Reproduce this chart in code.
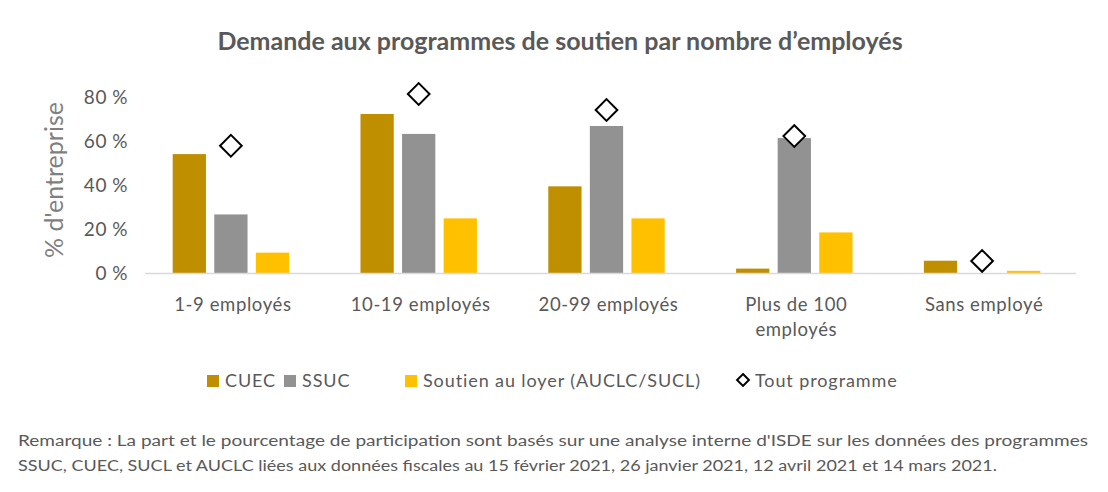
<!DOCTYPE html>
<html>
<head>
<meta charset="utf-8">
<script src="https://cdn.jsdelivr.net/npm/d3@7"></script>
<style>
    body { margin: 0; background: #fff; }
    svg { font-family: Lato, 'Open Sans', sans-serif; }
</style>
</head>
<body>
<div id="chart"></div>
<script>
// categories and series
const categories = ['1-9 employés', '10-19 employés', '20-99 employés', 'Plus de 100 employés', 'Sans employé']
const categoryLines = [['1-9 employés'], ['10-19 employés'], ['20-99 employés'], ['Plus de 100', 'employés'], ['Sans employé']]
const cuec = [54.2, 72.5, 39.5, 2.0, 5.6]
const ssuc = [26.7, 63.4, 67.0, 61.5, 0]
const loyer = [9.3, 24.9, 24.9, 18.5, 1.0]
const toutProgramme = [58.0, 81.6, 74.3, 62.4, 5.5]
const yTicks = [0, 20, 40, 60, 80]

const barSeries = [
    { name: 'CUEC', values: cuec, color: '#BF8F00' },
    { name: 'SSUC', values: ssuc, color: '#929292' },
    { name: 'Soutien au loyer (AUCLC/SUCL)', values: loyer, color: '#FFC000' },
]

const width = 1108
const height = 492
const margin = { top: 97.5, right: 32, bottom: 219, left: 137 }

const svg = d3
    .select('#chart')
    .append('svg')
    .attr('width', width)
    .attr('height', height)

// scales
const x = d3
    .scaleBand()
    .domain(categories)
    .range([margin.left, width - margin.right])

const y = d3
    .scaleLinear()
    .domain([0, 80])
    .range([height - margin.bottom, margin.top])

const xSub = d3
    .scaleBand()
    .domain(barSeries.map((d) => d.name))
    .range([x.bandwidth() * 0.19, x.bandwidth() * 0.81])
    .paddingInner(0.2)

// title
svg.append('text')
    .attr('x', 560)
    .attr('y', 50)
    .attr('text-anchor', 'middle')
    .style('font-size', '25px')
    .style('font-weight', 'bold')
    .attr('fill', '#595959')
    .text('Demande aux programmes de soutien par nombre d\u2019employés')

// y axis labels
svg.append('g')
    .selectAll('text')
    .data(yTicks)
    .enter()
    .append('text')
    .attr('x', 128)
    .attr('y', (d) => y(d))
    .attr('dy', '0.35em')
    .attr('text-anchor', 'end')
    .style('font-size', '19px')
    .style('letter-spacing', '0.5px')
    .attr('fill', '#595959')
    .text((d) => `${d} %`)

// y axis title
svg.append('text')
    .attr('transform', `translate(63, 180) rotate(-90)`)
    .attr('text-anchor', 'middle')
    .style('font-size', '25px')
    .attr('fill', '#7f7f7f')
    .text("% d'entreprise")

// bars
const groups = svg
    .append('g')
    .selectAll('g')
    .data(barSeries)
    .enter()
    .append('g')
    .attr('fill', (d) => d.color)

groups
    .selectAll('rect')
    .data((s) => s.values.map((v, i) => ({ name: s.name, v, cat: categories[i] })))
    .enter()
    .append('rect')
    .attr('x', (d) => x(d.cat) + xSub(d.name))
    .attr('width', xSub.bandwidth())
    .attr('y', (d) => y(d.v))
    .attr('height', (d) => y(0) - y(d.v))

// baseline
svg.append('line')
    .attr('x1', x.range()[0] + 8)
    .attr('x2', x.range()[1])
    .attr('y1', y(0) + 0.5)
    .attr('y2', y(0) + 0.5)
    .attr('stroke', '#d9d9d9')
    .attr('stroke-width', 1.5)

// diamonds
const diamond = d3.symbol().type(d3.symbolDiamond2).size(300)
svg.append('g')
    .selectAll('path')
    .data(toutProgramme)
    .enter()
    .append('path')
    .attr('transform', (d, i) => `translate(${x(categories[i]) + x.bandwidth() / 2}, ${y(d)})`)
    .attr('d', diamond)
    .attr('fill', '#fff')
    .attr('stroke', '#000')
    .attr('stroke-width', 2)

// x labels
const xLabels = svg.append('g')
    .selectAll('text')
    .data(categories)
    .enter()
    .append('text')
    .attr('x', (d) => x(d) + x.bandwidth() / 2 + 2)
    .attr('y', 311)
    .attr('text-anchor', 'middle')
    .style('font-size', '18.5px')
    .style('letter-spacing', '0.6px')
    .attr('fill', '#595959')

xLabels
    .selectAll('tspan')
    .data((d, i) => categoryLines[i])
    .enter()
    .append('tspan')
    .attr('x', function () { return this.parentNode.getAttribute('x') })
    .attr('dy', (d, i) => (i === 0 ? 0 : 25))
    .text((d) => d)

// legend
const legendItems = [
    { name: 'CUEC', color: '#BF8F00', x: 207 },
    { name: 'SSUC', color: '#929292', x: 284 },
    { name: 'Soutien au loyer (AUCLC/SUCL)', color: '#FFC000', x: 405 },
    { name: 'Tout programme', color: null, x: 737 },
]
const legend = svg.append('g')
legendItems.forEach((d) => {
    if (d.color) {
        legend.append('rect')
            .attr('x', d.x)
            .attr('y', 375)
            .attr('width', 12)
            .attr('height', 12)
            .attr('fill', d.color)
    } else {
        legend.append('path')
            .attr('transform', `translate(${d.x + 6}, 380)`)
            .attr('d', d3.symbol().type(d3.symbolDiamond2).size(90))
            .attr('fill', '#fff')
            .attr('stroke', '#000')
            .attr('stroke-width', 2)
    }
    legend.append('text')
        .attr('x', d.x + 18)
        .attr('y', 381)
        .attr('dy', '0.35em')
        .style('font-size', '18px')
        .style('letter-spacing', '0.9px')
        .attr('fill', '#595959')
        .text(d.name)
})

// note
const noteLines = [
    "Remarque : La part et le pourcentage de participation sont basés sur une analyse interne d'ISDE sur les données des programmes",
    'SSUC, CUEC, SUCL et AUCLC liées aux données fiscales au 15 février 2021, 26 janvier 2021, 12 avril 2021 et 14 mars 2021.',
]
const noteLengths = [1070, 979]
svg.append('g')
    .selectAll('text')
    .data(noteLines)
    .enter()
    .append('text')
    .attr('x', 18)
    .attr('y', (d, i) => 446 + i * 25)
    .style('font-size', '15.5px')
    .attr('fill', '#595959')
    .attr('textLength', (d, i) => noteLengths[i])
    .attr('lengthAdjust', 'spacingAndGlyphs')
    .text((d) => d)
</script>
</body>
</html>
